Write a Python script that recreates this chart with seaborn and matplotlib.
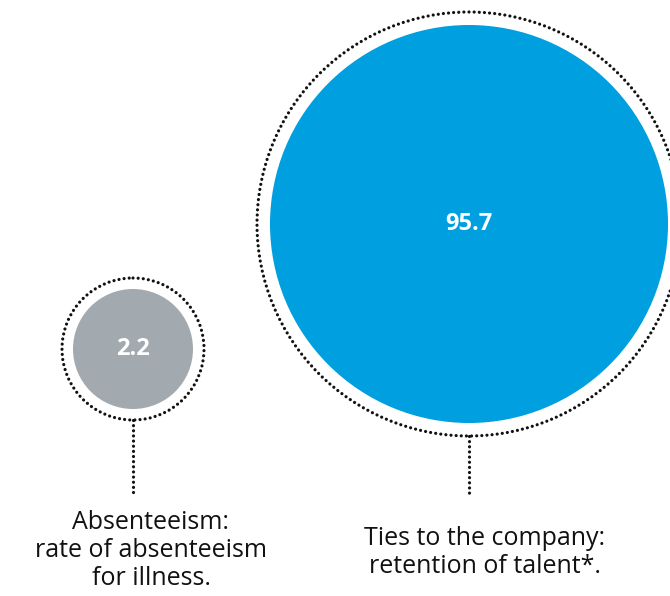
import numpy as np
import pandas as pd
import matplotlib
matplotlib.use("Agg")
import matplotlib.pyplot as plt
from matplotlib.patches import Circle
import seaborn as sns

# data
categories = ["Absenteeism", "Ties to the company"]
values = [2.2, 95.7]
value_labels = ["2.2", "95.7"]
captions = ["Absenteeism:\nrate of absenteeism\nfor illness.",
            "Ties to the company:\nretention of talent*."]

# layout (pixel coords, y grows downward)
W, H, DPI = 670, 596, 100
centers_x = [133, 469]
centers_y = [349, 224]
radius = [60, 199]
ring_radius = [71, 212]
stem_end = 496
caption_x = [151, 485]
caption_top = [510, 526]
colors = ["#a2aab0", "#009fdf"]

sns.set_theme(style="white")
plt.rcParams["font.family"] = ["Open Sans", "DejaVu Sans"]

df = pd.DataFrame({"cat": categories, "value": values,
                   "x": centers_x, "y": centers_y})

fig = plt.figure(figsize=(W / DPI, H / DPI), dpi=DPI)
ax = fig.add_axes([0, 0, 1, 1])
ax.set_xlim(0, W)
ax.set_ylim(H, 0)
ax.set_aspect("equal")
ax.axis("off")

# filled circles: marker diameter in points = sqrt(s)
px2pt = 72 / DPI
size_map = {c: (2 * r * px2pt) ** 2 for c, r in zip(categories, radius)}
sns.scatterplot(data=df, x="x", y="y", hue="cat", size="cat",
                palette=dict(zip(categories, colors)), sizes=size_map,
                linewidth=0, legend=False, ax=ax, zorder=2)

lw = 2.3
dots = (0, (0.01, 1.6))
dot_style = dict(color="#111111", linewidth=lw, linestyle=dots,
                 dash_capstyle="round")

for i in range(len(categories)):
    cx, cy = centers_x[i], centers_y[i]
    ring = Circle((cx, cy), ring_radius[i], fill=False, edgecolor="#111111",
                  linewidth=lw, linestyle=dots, capstyle="round", zorder=3)
    ax.add_patch(ring)
    ax.plot([cx, cx], [cy + ring_radius[i], stem_end], zorder=3, **dot_style)
    ax.text(cx, cy, value_labels[i], color="white", fontsize=17,
            fontweight="bold", ha="center", va="center", zorder=4)
    ax.text(caption_x[i], caption_top[i], captions[i], color="#111111",
            fontsize=18, ha="center", va="top", multialignment="center",
            linespacing=1.15, zorder=4)

fig.savefig("out.png", dpi=DPI)
